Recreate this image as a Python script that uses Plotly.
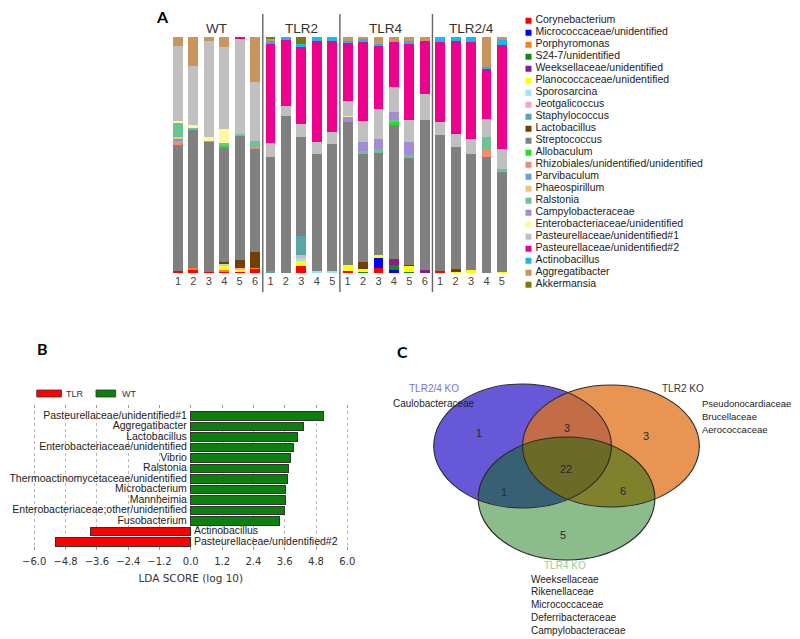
import plotly.graph_objects as go

W, H = 800, 639
OFF = 8  # the page body adds an 8px margin; content is placed so the screen matches


def px(x):
    return (x - OFF) / W


def py(y):
    return 1 - (y - OFF) / H


# ---------------- Panel A data ----------------
sample_labels = ['1', '2', '3', '4', '5', '6', '1', '2', '3', '4', '5',
                 '1', '2', '3', '4', '5', '6', '1', '2', '3', '4', '5']
group_names = ['WT', 'TLR2', 'TLR4', 'TLR2/4']
group_sizes = [6, 5, 6, 5]

taxa_names = ['Corynebacterium', 'Micrococcaceae/unidentified', 'Porphyromonas', 'S24-7/unidentified',
              'Weeksellaceae/unidentified', 'Planococcaceae/unidentified', 'Sporosarcina', 'Jeotgalicoccus',
              'Staphylococcus', 'Lactobacillus', 'Streptococcus', 'Allobaculum',
              'Rhizobiales/unidentified/unidentified', 'Parvibaculum', 'Phaeospirillum', 'Ralstonia',
              'Campylobacteraceae', 'Enterobacteriaceae/unidentified', 'Pasteurellaceae/unidentified#1',
              'Pasteurellaceae/unidentified#2', 'Actinobacillus', 'Aggregatibacter', 'Akkermansia']
taxa_colors = ['#ff0000', '#0000ff', '#f5821f', '#138a13', '#8b1a8b', '#ffff00', '#a0e2ef', '#f4a6c4',
               '#5aa5a5', '#704000', '#808080', '#22e022', '#f28b72', '#6a9fe0', '#f5c27e', '#6cc494',
               '#a58bd6', '#fff6a0', '#c0c0c0', '#ec008c', '#19b6f0', '#c8955e', '#7a7a10']

#                 WT1  WT2  WT3  WT4  WT5  WT6  | TLR2 1-5              | TLR4 1-6                      | TLR2/4 1-5
corynebacterium = [0.8, 1.5, 0.5, 0.7, 0.5, 1.7, 0, 0, 3.1, 0, 0, 0.8, 0, 2.1, 0, 0, 0, 0.8, 0, 0, 0, 0]
micrococcaceae = [0, 0, 0, 0, 0, 0, 0, 0, 0, 0, 0, 0, 0, 4.2, 1.4, 0, 0, 0, 0, 0, 0, 0]
porphyromonas = [0, 0.5, 0, 0.7, 0, 0.5, 0, 0, 0, 0, 0, 0, 0, 0, 0, 0, 0, 0, 0, 0, 0, 0]
s24_7 = [0, 0, 0, 0, 0, 0, 0, 0, 0, 0, 0, 0, 0.5, 0, 1.8, 0.5, 0, 0, 0, 0, 0, 0]
weeksellaceae = [0, 0, 0, 0, 0, 0, 0, 0, 0, 0, 0, 0, 0, 0, 2.8, 0, 1.4, 0, 0, 0, 0, 0]
planococcaceae = [0, 0, 0, 1.4, 1.0, 0, 0, 0, 1.8, 0, 0, 2.5, 1.0, 1.4, 0, 2.5, 0, 0, 0.5, 1.1, 0, 0.5]
sporosarcina = [0, 0, 0, 1.0, 0, 0, 0, 0, 1.5, 0.8, 0.8, 0, 0, 0, 0, 0, 0, 0, 0, 0, 0, 0]
jeotgalicoccus = [0, 0, 0, 0, 0.5, 0, 0, 0, 1.3, 0, 0, 0, 0, 0, 0, 0, 0, 0, 0, 0, 0, 0]
staphylococcus = [0, 0, 0, 0, 0, 0, 1.0, 0, 7.8, 0, 0, 0, 0, 0, 0, 0, 0, 0, 0, 0, 0, 0]
lactobacillus = [0, 0, 0, 1.0, 3.7, 6.8, 0, 0, 0, 0, 0, 0, 3.2, 0, 0, 0.6, 0, 0, 1.0, 0, 0, 0]
streptococcus = [52.5, 58, 55, 47.5, 53.3, 44, 48.3, 66.4, 42.4, 50, 53.8,
                 60.7, 46, 43, 56.5, 45.2, 63.3, 57.6, 52, 49.4, 49.2, 43]
allobaculum = [0, 0, 0, 1.0, 0, 0, 0, 0, 0, 0, 0, 0, 0, 0, 1.4, 0, 0, 0, 0, 0, 0, 0]
rhizobiales = [2.1, 0, 0, 0, 0, 0.5, 0, 0, 0, 0, 0, 0, 0, 0, 0, 0, 0, 0, 0, 0, 2.8, 0]
parvibaculum = [0.6, 0, 0, 0, 0, 0, 0, 0, 0, 0, 0, 0, 0, 0, 0, 0, 0, 0, 0, 0, 0, 0]
phaeospirillum = [0.8, 0, 0, 0, 0, 0, 0, 0, 0, 0, 0, 0, 0, 0, 0, 0, 0, 0, 0, 0, 0, 0]
ralstonia = [6.0, 1.0, 0.3, 1.0, 0.5, 2.4, 0, 0, 0, 0, 0, 0, 1.0, 1.7, 0.7, 1.0, 0, 0, 0, 0, 5.5, 0.7]
campylobacteraceae = [0, 0, 0, 0, 0, 0, 0, 0, 0, 0, 0, 2.1, 3.9, 3.9, 3.5, 5.6, 0, 0, 0, 0, 0, 0]
enterobacteriaceae = [0.6, 1.0, 1.7, 6.0, 0, 0, 0, 0, 0, 0, 0, 0.5, 0, 0, 0, 0, 0, 0, 0, 0, 0, 0]
pasteurellaceae_1 = [31.4, 25, 40.7, 34.5, 40.5, 25.4, 6, 4.2, 5.4, 5, 5.2,
                     6.4, 8.8, 12.7, 10.6, 9.2, 11.3, 5.6, 5.6, 6.4, 7.9, 8.5]
pasteurellaceae_2 = [0, 0, 0, 0, 1.0, 0, 42, 28.3, 32.7, 43, 38.7,
                     24.4, 33.6, 27, 19, 32.5, 22.3, 33.9, 39.2, 41, 21.2, 44.5]
actinobacillus = [0, 0, 0, 0, 0, 0, 1.4, 1.1, 1.4, 1.7, 1.7, 0.8, 1.2, 0.7, 0, 1.1, 0, 2.1, 1.7, 2.1, 0.7, 2.4]
aggregatibacter = [3.8, 12, 1.7, 4, 0, 19, 0.5, 0, 0, 0, 0, 1.7, 1.0, 2.8, 2.1, 1.7, 1.7, 0, 0, 0, 12.7, 1.1]
akkermansia = [0, 0, 0, 0, 0, 0, 1.0, 0, 2.8, 0, 0, 0, 0, 0, 0, 0, 0, 0, 0, 0, 0, 0]

taxa_values = [corynebacterium, micrococcaceae, porphyromonas, s24_7, weeksellaceae, planococcaceae,
               sporosarcina, jeotgalicoccus, staphylococcus, lactobacillus, streptococcus, allobaculum,
               rhizobiales, parvibaculum, phaeospirillum, ralstonia, campylobacteraceae, enterobacteriaceae,
               pasteurellaceae_1, pasteurellaceae_2, actinobacillus, aggregatibacter, akkermansia]

# ---------------- Panel B data ----------------
lda_taxa = ['Pasteurellaceae/unidentified#1', 'Aggregatibacter', 'Lactobacillus',
            'Enterobacteriaceae/unidentified', 'Vibrio', 'Ralstonia',
            'Thermoactinomycetaceae/unidentified', 'Microbacterium', 'Mannheimia',
            'Enterobacteriaceae;other/unidentified', 'Fusobacterium', 'Actinobacillus',
            'Pasteurellaceae/unidentified#2']
lda_scores = [5.08, 4.32, 4.09, 3.92, 3.81, 3.76, 3.71, 3.64, 3.62, 3.60, 3.40, -3.86, -5.19]
lda_groups = ['WT', 'WT', 'WT', 'WT', 'WT', 'WT', 'WT', 'WT', 'WT', 'WT', 'WT', 'TLR', 'TLR']
lda_ticks = [-6.0, -4.8, -3.6, -2.4, -1.2, 0.0, 1.2, 2.4, 3.6, 4.8, 6.0]

# ---------------- Panel C data ----------------
venn_sets = ['TLR2/4 KO', 'TLR2 KO', 'TLR4 KO']
venn_counts = [1, 3, 3, 22, 1, 6, 5]  # 2/4 only, 2/4&2, 2 only, all, 2/4&4, 2&4, 4 only
tlr24_only = ['Caulobacteraceae']
tlr2_only = ['Pseudonocardiaceae', 'Brucellaceae', 'Aerococcaceae']
tlr4_only = ['Weeksellaceae', 'Rikenellaceae', 'Micrococcaceae', 'Deferribacteraceae', 'Campylobacteraceae']

SANS = 'Liberation Sans, Arial, sans-serif'
DJV = 'DejaVu Sans, sans-serif'

fig = go.Figure()

# ----- Panel A stacked bars (normalised to 100 %) -----
n_samples = len(sample_labels)
totals = [sum(vals[j] for vals in taxa_values) for j in range(n_samples)]
xpos = list(range(n_samples))
for name, color, vals in zip(taxa_names, taxa_colors, taxa_values):
    fig.add_trace(go.Bar(
        x=xpos, y=[v * 100.0 / t for v, t in zip(vals, totals)],
        name=name, marker=dict(color=color, line=dict(width=0)),
        xaxis='x', yaxis='y', showlegend=False, hoverinfo='name+y'))

# legend for panel A (drawn with its own hidden axes)
leg_idx = list(range(len(taxa_names)))
fig.add_trace(go.Scatter(
    x=[528] * len(taxa_names), y=leg_idx, mode='markers',
    marker=dict(symbol='square', size=6, color=taxa_colors, line=dict(width=0)),
    xaxis='x3', yaxis='y3', showlegend=False, hoverinfo='skip'))
fig.add_trace(go.Scatter(
    x=[535] * len(taxa_names), y=leg_idx, mode='text', text=taxa_names,
    textposition='middle right', textfont=dict(family=SANS, size=10.5, color='#222'),
    xaxis='x3', yaxis='y3', showlegend=False, hoverinfo='skip', cliponaxis=False))

# ----- Panel B LDA bars -----
rows = list(range(len(lda_taxa)))
for grp, col in [('TLR', '#ff0000'), ('WT', '#0c800c')]:
    ys = [r for r, g in zip(rows, lda_groups) if g == grp]
    xs = [s for s, g in zip(lda_scores, lda_groups) if g == grp]
    fig.add_trace(go.Bar(
        x=xs, y=ys, orientation='h', width=0.84, name=grp,
        marker=dict(color=col, line=dict(color='#333333', width=1)),
        xaxis='x2', yaxis='y2', showlegend=False))

wt_rows = [r for r, g in zip(rows, lda_groups) if g == 'WT']
tlr_rows = [r for r, g in zip(rows, lda_groups) if g == 'TLR']
fig.add_trace(go.Scatter(
    x=[-0.15] * len(wt_rows), y=wt_rows, mode='text',
    text=[lda_taxa[r] for r in wt_rows], textposition='middle left',
    textfont=dict(family=SANS, size=10.5, color='#222'),
    xaxis='x2', yaxis='y2', showlegend=False, hoverinfo='skip', cliponaxis=False))
fig.add_trace(go.Scatter(
    x=[0.12] * len(tlr_rows), y=tlr_rows, mode='text',
    text=[lda_taxa[r] for r in tlr_rows], textposition='middle right',
    textfont=dict(family=SANS, size=10.5, color='#222'),
    xaxis='x2', yaxis='y2', showlegend=False, hoverinfo='skip', cliponaxis=False))

shapes = []
annotations = []

# group separators & labels for A
bounds = []
acc = 0
for gsz in group_sizes:
    bounds.append((acc, acc + gsz - 1))
    acc += gsz
for (a, b) in bounds[:-1]:
    shapes.append(dict(type='line', xref='x', yref='paper', x0=b + 0.5, x1=b + 0.5,
                       y0=py(292), y1=py(14), line=dict(color='#666666', width=1.4)))
for gname, (a, b) in zip(group_names, bounds):
    annotations.append(dict(text=gname, xref='x', yref='paper', x=(a + b) / 2, y=py(28),
                            showarrow=False, font=dict(family=SANS, size=13.5, color='#333'),
                            xanchor='center', yanchor='middle'))

# legend for B
for x0, x1, col, lab, lx in [(30, 55, '#ff0000', 'TLR', 58), (90, 110, '#0c800c', 'WT', 114)]:
    shapes.append(dict(type='rect', xref='paper', yref='paper', x0=px(x0), x1=px(x1),
                       y0=py(397), y1=py(390), fillcolor=col, line=dict(color='#333', width=0.8)))
    annotations.append(dict(text=lab, xref='paper', yref='paper', x=px(lx), y=py(393.5),
                            showarrow=False, xanchor='left', yanchor='middle',
                            font=dict(family=SANS, size=9, color='#333')))

# Venn diagram (panel C)
venn_boxes = [(432, 612, 384, 508), (522, 701, 385, 507), (477, 656, 437, 560)]
venn_fills = ['rgba(51,32,200,0.75)', 'rgba(225,114,28,0.76)', 'rgba(0,107,0,0.45)']
for (x0, x1, y0, y1), fc in zip(venn_boxes, venn_fills):
    shapes.append(dict(type='circle', xref='paper', yref='paper', x0=px(x0), x1=px(x1),
                       y0=py(y1), y1=py(y0), fillcolor=fc, line=dict(width=0)))
for (x0, x1, y0, y1) in venn_boxes:
    shapes.append(dict(type='circle', xref='paper', yref='paper', x0=px(x0), x1=px(x1),
                       y0=py(y1), y1=py(y0), fillcolor='rgba(0,0,0,0)',
                       line=dict(color='#2a2a2a', width=1.1)))

venn_count_pos = [(478, 433), (567, 428), (647, 436), (566, 469), (503, 492), (624, 491), (563, 535)]
for c, (x, y) in zip(venn_counts, venn_count_pos):
    annotations.append(dict(text=str(c), xref='paper', yref='paper', x=px(x), y=py(y),
                            showarrow=False, xanchor='center', yanchor='middle',
                            font=dict(family=SANS, size=11, color='#2a2a2a')))

annotations.append(dict(text=venn_sets[0], xref='paper', yref='paper', x=px(432), y=py(389),
                        showarrow=False, xanchor='center', yanchor='middle',
                        font=dict(family=SANS, size=10, color='#7b6fe0')))
annotations.append(dict(text=venn_sets[1], xref='paper', yref='paper', x=px(684), y=py(389),
                        showarrow=False, xanchor='center', yanchor='middle',
                        font=dict(family=SANS, size=10, color='#333')))
annotations.append(dict(text=venn_sets[2], xref='paper', yref='paper', x=px(565), y=py(565),
                        showarrow=False, xanchor='center', yanchor='middle',
                        font=dict(family=SANS, size=10, color='#96cd96')))
for i, t in enumerate(tlr24_only):
    annotations.append(dict(text=t, xref='paper', yref='paper', x=px(389), y=py(404 + 12.5 * i),
                            showarrow=False, xanchor='left', yanchor='middle',
                            font=dict(family=SANS, size=10, color='#222')))
for i, t in enumerate(tlr2_only):
    annotations.append(dict(text=t, xref='paper', yref='paper', x=px(702), y=py(404 + 12.5 * i),
                            showarrow=False, xanchor='left', yanchor='middle',
                            font=dict(family=SANS, size=9.5, color='#222')))
for i, t in enumerate(tlr4_only):
    annotations.append(dict(text=t, xref='paper', yref='paper', x=px(529), y=py(579 + 12.8 * i),
                            showarrow=False, xanchor='left', yanchor='middle',
                            font=dict(family=SANS, size=10, color='#222')))

# panel letters
for letter, x, y in [('A', 157, 17), ('B', 36, 348), ('C', 400, 351)]:
    annotations.append(dict(text='<b>%s</b>' % letter, xref='paper', yref='paper', x=px(x), y=py(y),
                            showarrow=False, xanchor='center', yanchor='middle',
                            font=dict(family='Lato, Open Sans, sans-serif', size=16, color='#000')))

# axes geometry
a_left, a_step = 165.2, 15.62
lda_unit = 26.42
b_range = [-6.2, 6.2]

fig.update_layout(
    width=W, height=H, margin=dict(l=0, r=0, t=0, b=0),
    paper_bgcolor='white', plot_bgcolor='white',
    barmode='stack', bargap=0.36, showlegend=False,
    xaxis=dict(domain=[px(a_left), px(a_left + a_step * n_samples)], range=[-0.5, n_samples - 0.5],
               tickvals=xpos, ticktext=sample_labels, showgrid=False, zeroline=False,
               showline=False, ticks='', tickfont=dict(family=SANS, size=11, color='#444')),
    yaxis=dict(domain=[py(273), py(37)], range=[0, 100], visible=False),
    xaxis2=dict(domain=[px(186 + b_range[0] * lda_unit), px(186 + b_range[1] * lda_unit)],
                range=b_range, anchor='y2',
                tickvals=lda_ticks, ticktext=[('%.1f' % t).replace('-', '\u2212') for t in lda_ticks],
                showgrid=True, gridcolor='#b8b8b8', griddash='dot', gridwidth=1,
                zeroline=False, showline=False, ticks='inside', ticklen=3, tickcolor='#999',
                mirror='ticks', ticklabelstandoff=4, tickfont=dict(family=DJV, size=10, color='#333'),
                title=dict(text='LDA SCORE (log 10)', font=dict(family=DJV, size=10.5, color='#333'),
                           standoff=8)),
    yaxis2=dict(domain=[py(550), py(405)], range=[12.76, -1.05], anchor='x2', visible=False),
    xaxis3=dict(domain=[px(520), px(800)], range=[520, 800], visible=False, anchor='y3'),
    yaxis3=dict(domain=[py(295), py(10)], range=[22.86, -0.892], visible=False, anchor='x3'),
    shapes=shapes, annotations=annotations,
)

fig.write_html('out.html')
